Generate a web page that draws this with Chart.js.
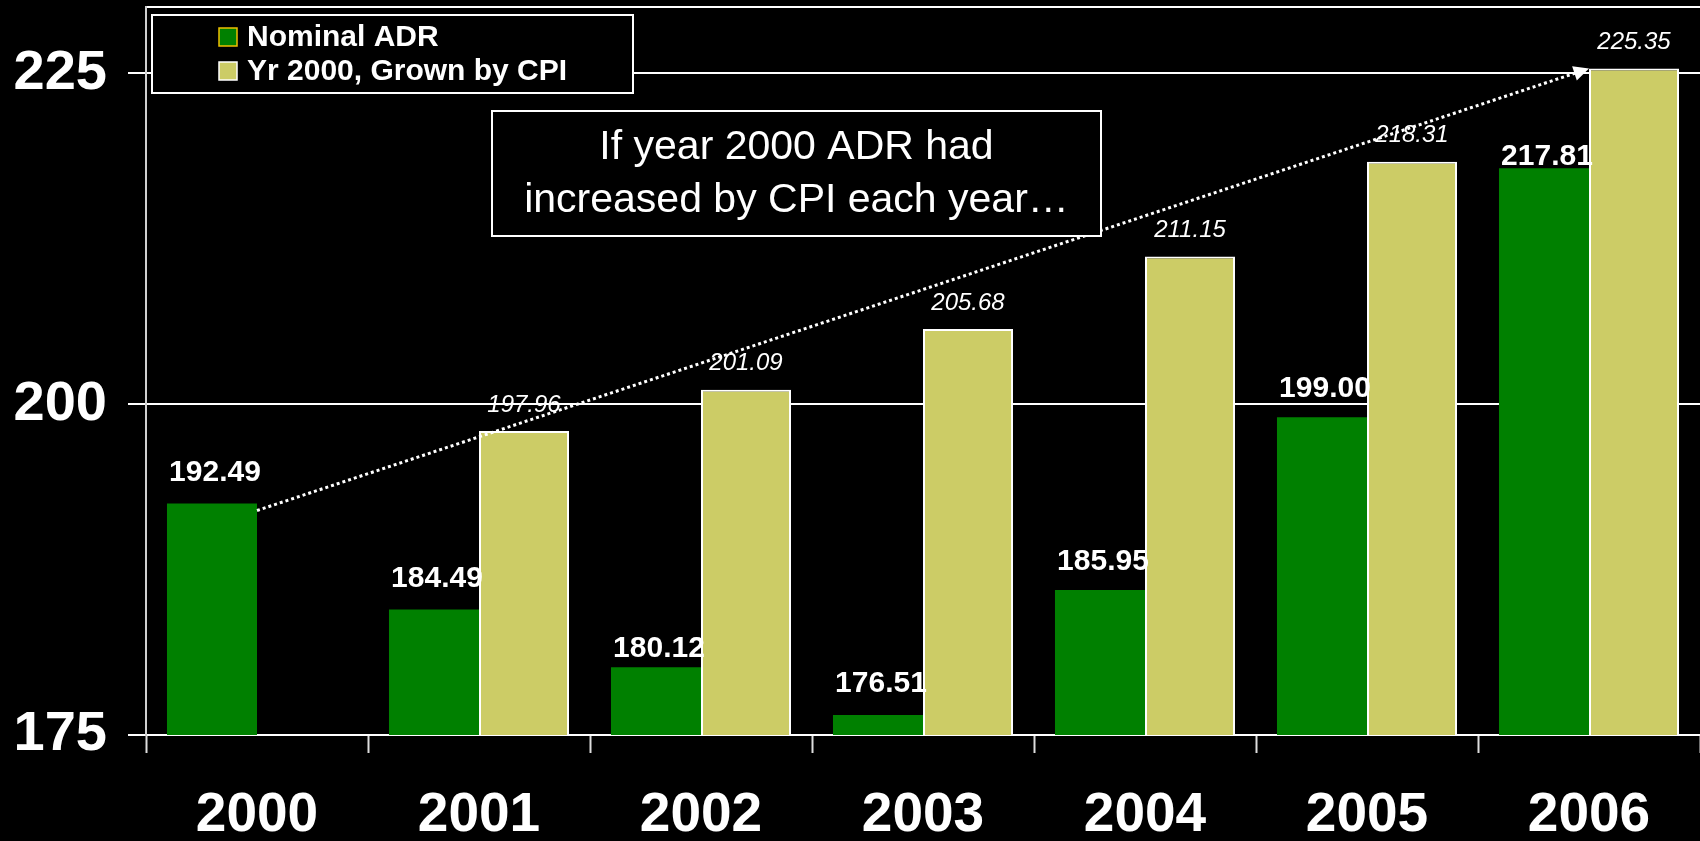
<!DOCTYPE html>
<html>
<head>
<meta charset="utf-8">
<script src="https://cdn.jsdelivr.net/npm/chart.js@4"></script>
<style>
  html, body { margin: 0; padding: 0; background: #000; }
  canvas { display: block; }
</style>
</head>
<body>
<canvas id="myChart" width="1700" height="841"></canvas>
<script>
// values
const years = ['2000', '2001', '2002', '2003', '2004', '2005', '2006'];
const nominalAdr = [192.49, 184.49, 180.12, 176.51, 185.95, 199.00, 217.81];
const cpiGrown = [null, 197.96, 201.09, 205.68, 211.15, 218.31, 225.35];
const yTicks = [175, 200, 225];
const seriesNames = ['Nominal ADR', 'Yr 2000, Grown by CPI'];
const noteLines = ['If year 2000 ADR had', 'increased by CPI each year\u2026'];

const GREEN = '#008000';
const KHAKI = '#cccc66';
const FONT = '"Liberation Sans", Arial, Helvetica, sans-serif';
const Y_MIN = 175, Y_MAX = 230;

// how far each value label sits above its bar (px)
const greenLift = [31, 31, 18, 31, 28, 29, 12];
const khakiLift = 26;

const extras = {
  id: 'extras',
  afterDatasetsDraw(chart) {
    const ctx = chart.ctx;
    const area = chart.chartArea;
    const g = chart.getDatasetMeta(0).data;
    const k = chart.getDatasetMeta(1).data;

    ctx.save();
    ctx.fillStyle = '#fff';
    ctx.textAlign = 'center';
    ctx.textBaseline = 'middle';

    // value labels
    ctx.font = 'bold 30px ' + FONT;
    g.forEach((bar, i) => {
      ctx.fillText(nominalAdr[i].toFixed(2), bar.x + 3, bar.y - greenLift[i]);
    });
    ctx.font = 'italic 24px ' + FONT;
    k.forEach((bar, i) => {
      if (cpiGrown[i] == null) return;
      ctx.fillText(cpiGrown[i].toFixed(2), bar.x, bar.y - khakiLift);
    });

    // dotted arrow from 2000 nominal to 2006 CPI-grown
    const b0 = g[0], b6 = k[k.length - 1];
    const x1 = b0.x + b0.width / 2, y1 = b0.y + 7;
    const x2 = b6.x - b6.width / 2, y2 = b6.y;
    const ang = Math.atan2(y2 - y1, x2 - x1);
    const head = 17;
    ctx.strokeStyle = '#fff';
    ctx.lineWidth = 3;
    ctx.setLineDash([3, 3]);
    ctx.beginPath();
    ctx.moveTo(x1, y1);
    ctx.lineTo(x2 - Math.cos(ang) * head * 0.8, y2 - Math.sin(ang) * head * 0.8);
    ctx.stroke();
    ctx.setLineDash([]);
    ctx.beginPath();
    ctx.moveTo(x2, y2);
    ctx.lineTo(x2 - head * Math.cos(ang - 0.45), y2 - head * Math.sin(ang - 0.45));
    ctx.lineTo(x2 - head * Math.cos(ang + 0.45), y2 - head * Math.sin(ang + 0.45));
    ctx.closePath();
    ctx.fill();

    // note box
    const nx = area.left + 346, ny = area.top + 104, nw = 609, nh = 125;
    ctx.fillStyle = '#000';
    ctx.fillRect(nx, ny, nw, nh);
    ctx.strokeStyle = '#fff';
    ctx.lineWidth = 2;
    ctx.strokeRect(nx, ny, nw, nh);
    ctx.fillStyle = '#fff';
    ctx.font = '41px ' + FONT;
    ctx.fillText(noteLines[0], nx + nw / 2, ny + 37);
    ctx.fillText(noteLines[1], nx + nw / 2, ny + 90);

    // legend box
    const lx = area.left + 6, ly = area.top + 8, lw = 481, lh = 78;
    ctx.fillStyle = '#000';
    ctx.fillRect(lx, ly, lw, lh);
    ctx.strokeRect(lx, ly, lw, lh);
    ctx.textAlign = 'left';
    ctx.font = 'bold 30px ' + FONT;
    const swatch = [[GREEN, '#f0c000'], [KHAKI, '#ffffff']];
    seriesNames.forEach((name, i) => {
      const cy = ly + 22 + i * 34;
      ctx.fillStyle = swatch[i][0];
      ctx.fillRect(lx + 67, cy - 9, 18, 18);
      ctx.strokeStyle = swatch[i][1];
      ctx.lineWidth = 1.5;
      ctx.strokeRect(lx + 67, cy - 9, 18, 18);
      ctx.fillStyle = '#fff';
      ctx.fillText(name, lx + 95, cy + 1);
    });
    ctx.restore();
  }
};

const ctx = document.getElementById('myChart').getContext('2d');

new Chart(ctx, {
  type: 'bar',
  data: {
    labels: years,
    datasets: [{
      label: seriesNames[0],
      data: nominalAdr,
      backgroundColor: GREEN,
      borderWidth: 0
    }, {
      label: seriesNames[1],
      data: cpiGrown,
      backgroundColor: KHAKI,
      borderColor: '#ffffff',
      borderWidth: 2
    }]
  },
  options: {
    responsive: false,
    animation: false,
    devicePixelRatio: 1,
    layout: { padding: { top: 7, right: 0, left: 0, bottom: 0 } },
    datasets: {
      bar: { categoryPercentage: 0.811, barPercentage: 1.0 }
    },
    plugins: {
      legend: { display: false },
      tooltip: { enabled: false }
    },
    scales: {
      x: {
        offset: true,
        grid: {
          offset: true,
          drawOnChartArea: false,
          drawTicks: true,
          tickLength: 18,
          tickColor: '#dddddd',
          tickWidth: 2
        },
        border: { display: true, color: '#ffffff', width: 2 },
        ticks: {
          color: '#ffffff',
          font: { family: FONT, size: 55, weight: 'bold' },
          padding: 30,
          maxRotation: 0,
          autoSkip: false
        },
        afterFit(scale) {
          scale.height = 106;
          scale.paddingLeft = 0;
          scale.paddingRight = 0;
        }
      },
      y: {
        min: Y_MIN,
        max: Y_MAX,
        afterBuildTicks(scale) {
          scale.ticks = yTicks.concat([Y_MAX]).map(v => ({ value: v }));
        },
        grid: {
          color: '#ffffff',
          lineWidth: 2,
          tickLength: 18,
          tickWidth: 2,
          tickColor: (c) => (c.tick && c.tick.value === Y_MAX ? 'rgba(0,0,0,0)' : '#ffffff')
        },
        border: { display: true, color: '#d0d0d0', width: 2 },
        ticks: {
          color: '#ffffff',
          font: { family: FONT, size: 56, weight: 'bold' },
          padding: 21,
          callback: (v) => (v === Y_MAX ? '' : String(v))
        },
        afterFit(scale) {
          scale.width = 146;
          scale.paddingTop = 0;
          scale.paddingBottom = 0;
        }
      }
    }
  },
  plugins: [extras]
});
</script>
</body>
</html>
